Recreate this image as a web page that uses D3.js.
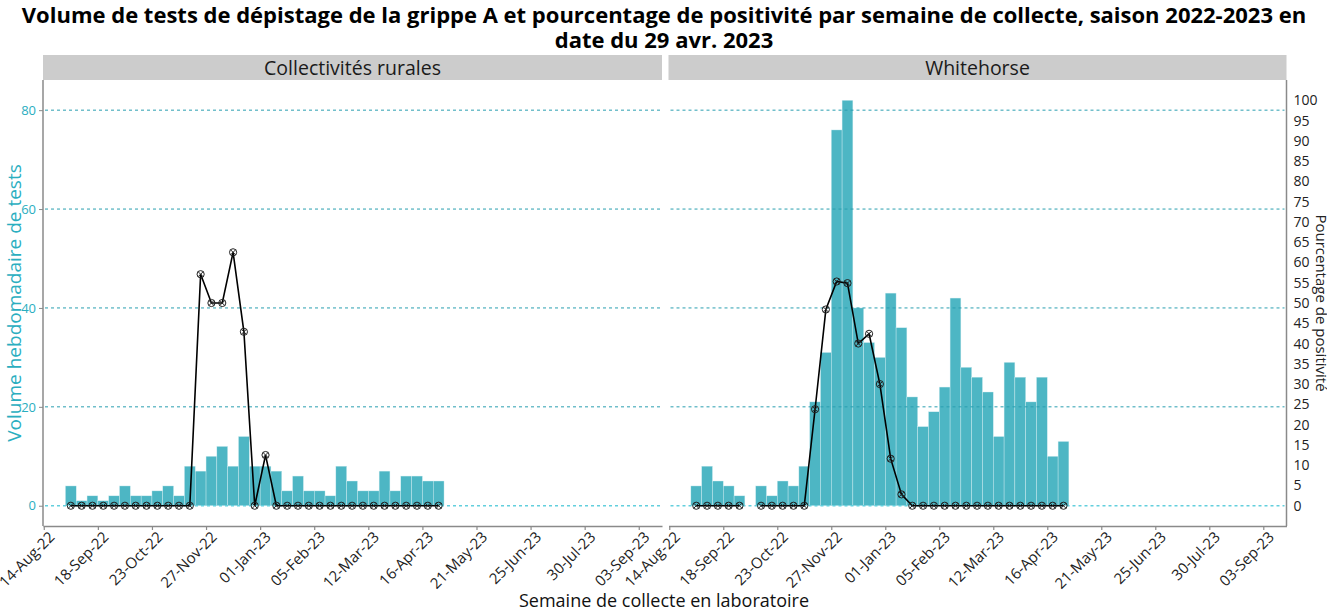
<!DOCTYPE html>
<html>
<head>
<meta charset="utf-8">
<script src="https://cdn.jsdelivr.net/npm/d3@7"></script>
<style>
  body { margin: 0; background: #fff; }
  svg { font-family: "Open Sans", Lato, sans-serif; }
</style>
</head>
<body>
<svg id="chart" width="1327" height="612"></svg>
<script>
// weekly data, weeks start on sunday
var weeks = ["2022-08-28","2022-09-04","2022-09-11","2022-09-18","2022-09-25","2022-10-02","2022-10-09",
  "2022-10-16","2022-10-23","2022-10-30","2022-11-06","2022-11-13","2022-11-20","2022-11-27","2022-12-04",
  "2022-12-11","2022-12-18","2022-12-25","2023-01-01","2023-01-08","2023-01-15","2023-01-22","2023-01-29",
  "2023-02-05","2023-02-12","2023-02-19","2023-02-26","2023-03-05","2023-03-12","2023-03-19","2023-03-26",
  "2023-04-02","2023-04-09","2023-04-16","2023-04-23"];
var panels = ["Collectivités rurales", "Whitehorse"];

var ruralTests = [4,1,2,1,2,4,2,2,3,4,2,8,7,10,12,8,14,8,8,7,3,6,3,3,2,8,5,3,3,7,3,6,6,5,5];
var ruralPct = [0,0,0,0,0,0,0,0,0,0,0,0,57.1,50,50,62.5,42.9,0,12.5,0,0,0,0,0,0,0,0,0,0,0,0,0,0,0,0];

var whTests = [4,8,5,4,2,null,4,2,5,4,8,21,31,76,82,40,33,30,43,36,22,16,19,24,42,28,26,23,14,29,26,21,26,10,13];
var whPct = [0,0,0,0,0,null,0,0,0,0,0,23.8,48.4,55.3,54.9,40,42.4,30,11.6,2.8,0,0,0,0,0,0,0,0,0,0,0,0,0,0,0];

var xTicks = ["2022-08-14","2022-09-18","2022-10-23","2022-11-27","2023-01-01","2023-02-05","2023-03-12",
  "2023-04-16","2023-05-21","2023-06-25","2023-07-30","2023-09-03"];
var yTicks = [0, 20, 40, 60, 80];
var pctTicks = d3.range(0, 101, 5);
var pctFactor = 0.82; // 100 % sits at 82 tests on the left axis

var series = [
  {name: panels[0], tests: ruralTests, pct: ruralPct},
  {name: panels[1], tests: whTests, pct: whPct}
];

var parse = d3.utcParse("%Y-%m-%d");
var fmt = d3.utcFormat("%d-%b-%y");

var teal = "#4db6c4";
var svg = d3.select("#chart");

var plotTop = 80, plotBottom = 526;
var panelX = [[43, 662], [668.5, 1286.5]];

var y = d3.scaleLinear().domain([-4.1, 86.1]).range([plotBottom, plotTop]);
var yPct = function(p) { return y(p * pctFactor); };

// title
svg.append("text").attr("x", 664).attr("y", 23).attr("text-anchor", "middle")
  .style("font-size", "22px").style("font-weight", "bold").attr("fill", "#000")
  .text("Volume de tests de dépistage de la grippe A et pourcentage de positivité par semaine de collecte, saison 2022-2023 en");
svg.append("text").attr("x", 664).attr("y", 48).attr("text-anchor", "middle")
  .style("font-size", "22px").style("font-weight", "bold").attr("fill", "#000")
  .text("date du 29 avr. 2023");

series.forEach(function(s, i) {
  var x0 = panelX[i][0], x1 = panelX[i][1];
  var x = d3.scaleUtc()
    .domain([new Date(Date.UTC(2022, 7, 13, 12)), new Date(Date.UTC(2023, 8, 18, 1))])
    .range([x0, x1]);

  var data = weeks.map(function(w, k) {
    var d = parse(w);
    return {start: d, end: d3.utcDay.offset(d, 7), mid: new Date(+d + 3.5 * 864e5), tests: s.tests[k], pct: s.pct[k]};
  });

  // strip
  svg.append("rect").attr("x", x0).attr("y", 55).attr("width", x1 - x0).attr("height", 25).attr("fill", "#cccccc");
  svg.append("text").attr("x", (x0 + x1) / 2).attr("y", 74.5).attr("text-anchor", "middle")
    .style("font-size", "19.5px").attr("fill", "#1a1a1a").text(s.name);

  var g = svg.append("g");

  // bars
  g.selectAll("rect.bar").data(data.filter(function(d) { return d.tests != null; }))
    .enter().append("rect").attr("class", "bar")
    .attr("x", function(d) { return x(d.start); })
    .attr("width", function(d) { return x(d.end) - x(d.start); })
    .attr("y", function(d) { return y(d.tests); })
    .attr("height", function(d) { return y(0) - y(d.tests); })
    .attr("fill", teal).attr("stroke", "#d5eef2").attr("stroke-width", 0.4);

  // dashed gridlines on top of bars
  g.selectAll("line.grid").data(yTicks).enter().append("line")
    .attr("x1", x0 + 2).attr("x2", x1 - 2)
    .attr("y1", function(d) { return y(d); }).attr("y2", function(d) { return y(d); })
    .attr("stroke", function(d) { return d === 0 ? "#63cfdd" : "#2a9fb0"; })
    .attr("stroke-width", function(d) { return d === 0 ? 1.4 : 1; })
    .attr("stroke-dasharray", "3,3");

  // percent line
  var line = d3.line()
    .defined(function(d) { return d.pct != null; })
    .x(function(d) { return x(d.mid); })
    .y(function(d) { return yPct(d.pct); });
  g.append("path").datum(data).attr("d", line)
    .attr("fill", "none").attr("stroke", "#000").attr("stroke-width", 1.6);

  var r = 3.6, c = r * 0.72;
  g.selectAll("path.pt").data(data.filter(function(d) { return d.pct != null; }))
    .enter().append("path").attr("class", "pt")
    .attr("transform", function(d) { return "translate(" + x(d.mid) + "," + yPct(d.pct) + ")"; })
    .attr("d", "M" + (-r) + ",0A" + r + "," + r + " 0 1,0 " + r + ",0A" + r + "," + r + " 0 1,0 " + (-r) + ",0" +
      "M" + (-c) + "," + (-c) + "L" + c + "," + c + "M" + (-c) + "," + c + "L" + c + "," + (-c))
    .attr("fill", "none").attr("stroke", "#222").attr("stroke-width", 1);

  // x axis
  var xAxis = svg.append("g").attr("transform", "translate(0," + plotBottom + ")")
    .call(d3.axisBottom(x).tickValues(xTicks.map(parse)).tickFormat(fmt).tickSize(4).tickSizeOuter(0));
  xAxis.select(".domain").attr("stroke", "#8a8a8a").attr("stroke-width", 1.5);
  xAxis.selectAll(".tick line").attr("stroke", "#8a8a8a").attr("stroke-width", 1.2);
  xAxis.selectAll(".tick text")
    .style("font-family", "'Open Sans', sans-serif").style("font-size", "15px").attr("fill", "#222")
    .attr("text-anchor", "end").attr("dx", "0.25em").attr("dy", "0.35em")
    .attr("transform", "translate(0,6) rotate(-45)");
});

// left y axis
var yAxis = svg.append("g").attr("transform", "translate(" + panelX[0][0] + ",0)")
  .call(d3.axisLeft(y).tickValues(yTicks).tickSize(4).tickSizeOuter(0));
yAxis.select(".domain").attr("stroke", "#8a8a8a").attr("stroke-width", 1.5)
  .attr("d", "M0," + plotTop + "V" + plotBottom);
yAxis.selectAll(".tick line").attr("stroke", "#8a8a8a");
yAxis.selectAll(".tick text").style("font-family", "'Open Sans', sans-serif").style("font-size", "13px").attr("fill", "#2aaebf");

// right y axis (percent)
var yRight = d3.scaleLinear().domain([0, 100]).range([yPct(0), yPct(100)]);
var rAxis = svg.append("g").attr("transform", "translate(" + panelX[1][1] + ",0)")
  .call(d3.axisRight(yRight).tickValues(pctTicks).tickSize(0).tickPadding(7));
rAxis.select(".domain").attr("stroke", "#8a8a8a").attr("stroke-width", 1.5)
  .attr("d", "M0," + plotTop + "V" + plotBottom);
rAxis.selectAll(".tick text").style("font-family", "'Open Sans', sans-serif").style("font-size", "14px").attr("fill", "#222");

// axis titles
svg.append("text").attr("transform", "translate(21,303) rotate(-90)").attr("text-anchor", "middle")
  .style("font-size", "19px").attr("fill", "#2aaebf").text("Volume hebdomadaire de tests");
svg.append("text").attr("transform", "translate(1316,303) rotate(90)").attr("text-anchor", "middle")
  .style("font-size", "15px").attr("fill", "#222").text("Pourcentage de positivité");
svg.append("text").attr("x", 664).attr("y", 607).attr("text-anchor", "middle")
  .style("font-size", "18px").attr("fill", "#111").text("Semaine de collecte en laboratoire");
</script>
</body>
</html>
